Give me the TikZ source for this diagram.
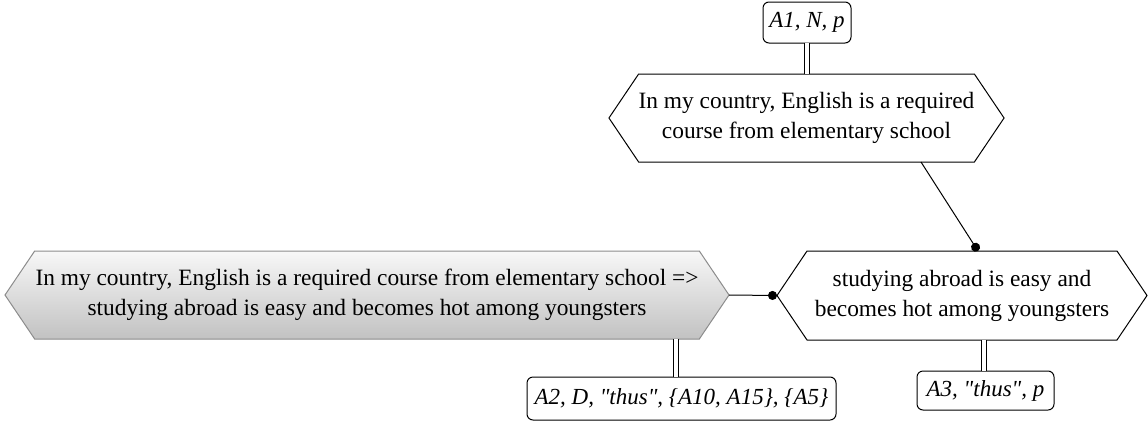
\documentclass[tikz,border=0pt]{standalone}
\usepackage{fontspec}
\setmainfont{Liberation Serif}
\newfontfamily\lblfont{Liberation Serif}
\usetikzlibrary{shapes.symbols,arrows.meta}
\begin{document}
\begin{tikzpicture}[x=1pt,y=-1pt,
  every node/.style={inner sep=0pt,outer sep=0pt},
  hexbox/.style={signal, signal to=west and east, signal pointer angle=112,
     draw=black, line width=1pt, align=center,
     font=\fontsize{23.4}{30}\selectfont},
  graybox/.style={hexbox, draw=gray!90, top color=gray!6, bottom color=gray!48},
  labelbox/.style={draw=black, line width=1pt, rounded corners=6pt,
     font=\lblfont\fontsize{23}{26}\selectfont\itshape, fill=white},
  dbl/.style={double=white, double distance=4pt, line width=1pt, draw=black},
  link/.style={line width=1pt, draw=black},
  dotlink/.style={link, -{Circle[length=9pt,width=9pt]}}]
\useasboundingbox (0,0) rectangle (1148,426);

\node[labelbox, minimum width=88pt, minimum height=41pt] (a1) at (807,22.5) {A1, N, p};
\node[hexbox, minimum width=383pt, minimum height=88pt] (h1) at (806.5,118)
  {In my country, English is a required\\course from elementary school};
\node[hexbox, minimum width=370pt, minimum height=89pt] (h3) at (962,295.5)
  {studying abroad is easy and\\becomes hot among youngsters};
\node[graybox, minimum width=724pt, minimum height=88pt] (h2) at (367,295)
  {In my country, English is a required course from elementary school =>\\studying abroad is easy and becomes hot among youngsters};
\node[labelbox, minimum width=309pt, minimum height=43pt] (a2) at (681.5,398.5)
  {A2, D, "thus", \{A10, A15\}, \{A5\}};
\node[labelbox, minimum width=137pt, minimum height=39pt] (a3) at (985.5,390.5)
  {A3, "thus", p};

\draw[dbl] (a1.south) -- (a1.south |- h1.north);
\draw[dotlink] ([xshift=114.5pt]h1.south) -- ([xshift=16pt]h3.north);
\draw[dotlink] (h2.east) -- (h3.west);
\draw[dbl] ([xshift=309pt]h2.south) coordinate (d2) -- (d2 |- a2.north);
\draw[dbl] ([xshift=21.5pt]h3.south) coordinate (d3) -- (d3 |- a3.north);
\end{tikzpicture}
\end{document}
